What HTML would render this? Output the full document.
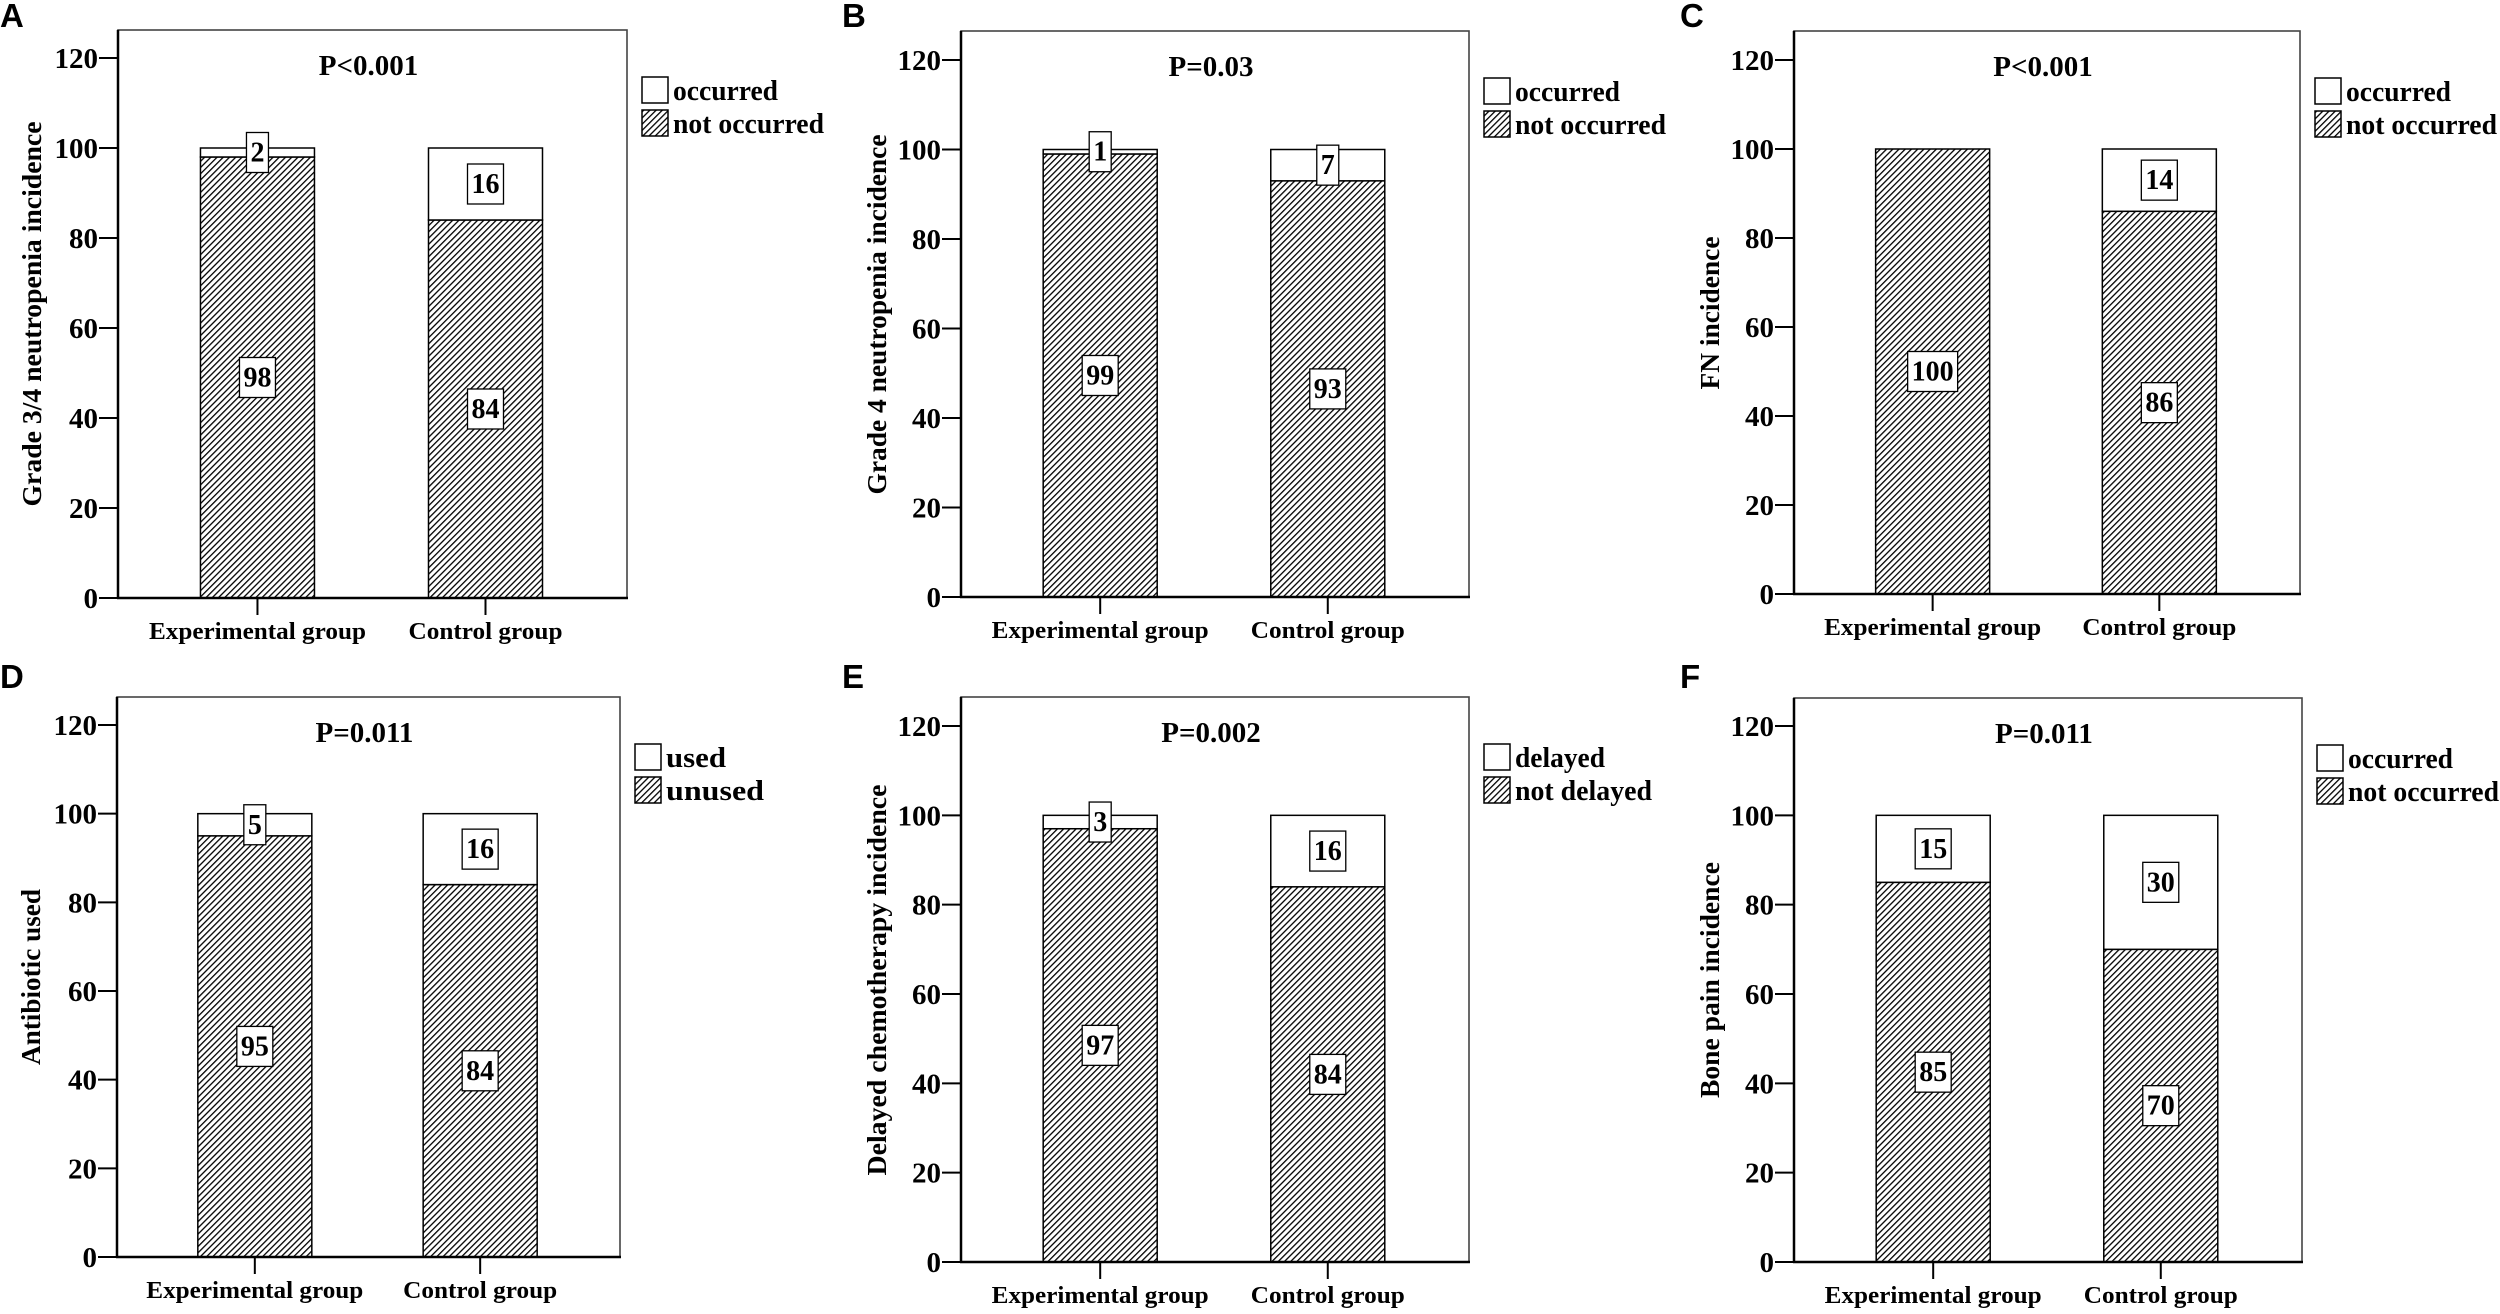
<!DOCTYPE html>
<html><head><meta charset="utf-8">
<style>
html,body{margin:0;padding:0;background:#fff;}
svg{display:block;}
text{font-family:"Liberation Serif",serif;font-weight:bold;fill:#000;}
.lt{font-family:"Liberation Sans",sans-serif;font-weight:bold;}
</style></head>
<body>
<svg id="fig" width="2500" height="1314" viewBox="0 0 2500 1314" xmlns="http://www.w3.org/2000/svg">
<defs>
<pattern id="hatch" patternUnits="userSpaceOnUse" width="4.4" height="4.4" patternTransform="rotate(45)">
<rect width="4.4" height="4.4" fill="#fff"/>
<line x1="0" y1="0" x2="0" y2="4.4" stroke="#000" stroke-width="2.6"/>
</pattern>
</defs>
</svg>
<script>
// ---- data ----
const panelLetters = ["A","B","C","D","E","F"];
const categories = ["Experimental group","Control group"];
const pValues = ["P<0.001","P=0.03","P<0.001","P=0.011","P=0.002","P=0.011"];
const yTitles = ["Grade 3/4 neutropenia incidence","Grade 4 neutropenia incidence","FN incidence","Antibiotic used","Delayed chemotherapy incidence","Bone pain incidence"];
const legendTop = ["occurred","occurred","occurred","used","delayed","occurred"];
const legendBottom = ["not occurred","not occurred","not occurred","unused","not delayed","not occurred"];
const notOccurredA = [98,84];
const notOccurredB = [99,93];
const notOccurredC = [100,86];
const notOccurredD = [95,84];
const notOccurredE = [97,84];
const notOccurredF = [85,70];
const occurredA = [2,16];
const occurredB = [1,7];
const occurredC = [0,14];
const occurredD = [5,16];
const occurredE = [3,16];
const occurredF = [15,30];
const yTicks = [0,20,40,60,80,100,120];

// ---- layout ----
const lowerSeries = [notOccurredA,notOccurredB,notOccurredC,notOccurredD,notOccurredE,notOccurredF];
const upperSeries = [occurredA,occurredB,occurredC,occurredD,occurredE,occurredF];
const frames = [
 {l:118,r:627,t:30,z:598,y120:58,lx:0,ly:27,tx:32},
 {l:961,r:1469,t:31,z:597,y120:60,lx:842,ly:27,tx:877},
 {l:1794,r:2300,t:31,z:594,y120:60,lx:1680,ly:27,tx:1710},
 {l:117,r:620,t:697,z:1257,y120:725,lx:0,ly:688,tx:31},
 {l:961,r:1469,t:697,z:1262,y120:726,lx:842,ly:688,tx:877},
 {l:1794,r:2302,t:698,z:1262,y120:726,lx:1680,ly:688,tx:1710}
];
const titleLen = [385,360,153,176,391,236];
const legTopLen = [105,105,105,60,90,105];
const legBotLen = [151,151,151,98,137,151];

const NS="http://www.w3.org/2000/svg";
const svg=document.getElementById('fig');
function mk(tag,attrs,parent){const e=document.createElementNS(NS,tag);for(const k in attrs)e.setAttribute(k,attrs[k]);(parent||svg).appendChild(e);return e;}

frames.forEach((f,p)=>{
  const g=mk('g',{});
  
  
  const yScale=v=>f.z-(f.z-f.y120)*v/120;
  const xCenter=i=>f.l+(i===0?0.274:0.722)*(f.r-f.l);
  const bw=114;

  const lt=mk('text',{x:f.lx,y:f.ly,'font-size':33,class:'lt'},g);lt.textContent=panelLetters[p];
  
  

  const fr=mk('rect',{x:f.l,y:f.t,width:f.r-f.l,height:f.z-f.t,fill:'none',stroke:'#444','stroke-width':1.6},g);
  
  

  categories.forEach((c,i)=>{
    const cx=xCenter(i),x0=cx-bw/2;
    const lo=lowerSeries[p][i],up=upperSeries[p][i];
    const r1=mk('rect',{x:x0,y:yScale(lo),width:bw,height:f.z-yScale(lo),fill:'url(#hatch)',stroke:'#000','stroke-width':1.5},g);
    
    
    if(up>0){
      const r2=mk('rect',{x:x0,y:yScale(lo+up),width:bw,height:yScale(lo)-yScale(lo+up),fill:'#fff',stroke:'#000','stroke-width':1.5},g);
      
      
    }
    const boxes=[[lo,lo/2]];
    if(up>0)boxes.push([up,lo+up/2]);
    boxes.forEach(([v,mid])=>{
      const s=String(v),w=s.length*14+8,cy=yScale(mid);
      const b=mk('rect',{x:cx-w/2,y:cy-20,width:w,height:40,fill:'#fff',stroke:'#000','stroke-width':1.3},g);
      
      
      const t=mk('text',{x:cx,y:cy+9,'font-size':28,'text-anchor':'middle'},g);t.textContent=s;
      
      
    });
    mk('line',{x1:cx,y1:f.z,x2:cx,y2:f.z+17,stroke:'#000','stroke-width':2},g);
    const cl=mk('text',{x:cx,y:f.z+41,'font-size':24,'text-anchor':'middle',textLength:i===0?217:154,lengthAdjust:'spacingAndGlyphs'},g);cl.textContent=c;
    
    
  });

  // axes
  mk('line',{x1:f.l,y1:f.t,x2:f.l,y2:f.z,stroke:'#000','stroke-width':2.5},g);
  mk('line',{x1:f.l-1,y1:f.z,x2:f.r+1,y2:f.z,stroke:'#000','stroke-width':2.5},g);
  yTicks.forEach(v=>{
    const y=yScale(v);
    mk('line',{x1:f.l-19,y1:y,x2:f.l,y2:y,stroke:'#000','stroke-width':2},g);
    const t=mk('text',{x:f.l-20,y:y+10,'font-size':29,'text-anchor':'end'},g);t.textContent=v;
    
    
  });
  const yc=(f.z+f.y120)/2-14;
  const yt=mk('text',{x:f.tx,y:yc,'font-size':27,'text-anchor':'middle',transform:`rotate(-90 ${f.tx} ${yc})`,dy:9,textLength:titleLen[p],lengthAdjust:'spacingAndGlyphs'},g);
  yt.textContent=yTitles[p];
  
  

  const pt=mk('text',{x:(f.l+f.r)/2-4,y:f.t+45,'font-size':29,'text-anchor':'middle'},g);pt.textContent=pValues[p];
  
  

  // legend
  const lx=f.r+15,ly=f.t+47;
  const b1=mk('rect',{x:lx,y:ly,width:26,height:26,fill:'#fff',stroke:'#000','stroke-width':1.5},g);
  
  
  const b2=mk('rect',{x:lx,y:ly+33,width:26,height:26,fill:'url(#hatch)',stroke:'#000','stroke-width':1.5},g);
  
  
  const t1=mk('text',{x:lx+31,y:ly+23,'font-size':28,textLength:legTopLen[p],lengthAdjust:'spacingAndGlyphs'},g);t1.textContent=legendTop[p];
  
  
  const t2=mk('text',{x:lx+31,y:ly+56,'font-size':28,textLength:legBotLen[p],lengthAdjust:'spacingAndGlyphs'},g);t2.textContent=legendBottom[p];
  
  
});
</script>
</body></html>
